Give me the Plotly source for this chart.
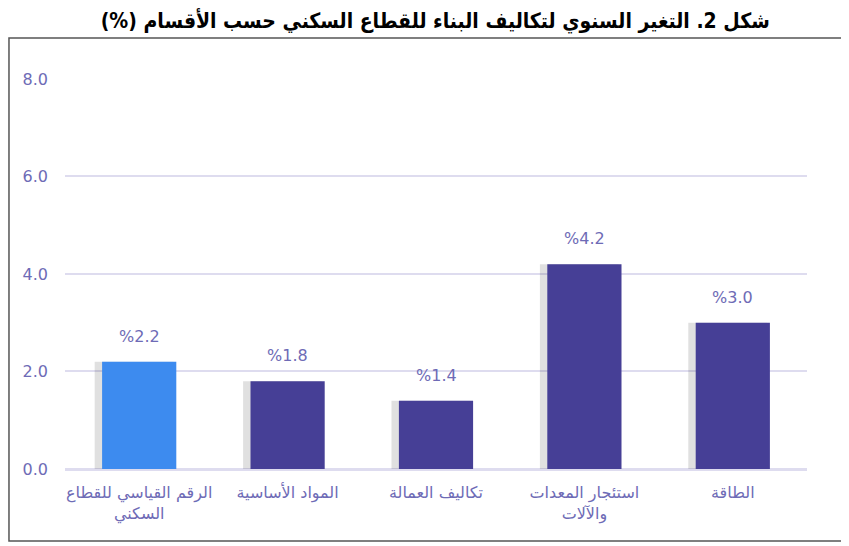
import plotly.graph_objects as go

# data
categories = [
    "الرقم القياسي للقطاع<br>السكني",
    "المواد الأساسية",
    "تكاليف العمالة",
    "استئجار المعدات<br>والآلات",
    "الطاقة",
]
values = [2.2, 1.8, 1.4, 4.2, 3.0]
bar_colors = ["#3d8bef", "#463f96", "#463f96", "#463f96", "#463f96"]
y_ticks = [0, 2, 4, 6, 8]

# RLM marks keep the trailing "(%)" on the left, as in right-to-left text
title = "\u200fشكل 2. التغير السنوي لتكاليف البناء للقطاع السكني حسب الأقسام (%)\u200f"
label_color = "#6e6bb6"
font_family = "DejaVu Sans, Noto Sans, sans-serif"

fig = go.Figure()

# soft grey shadow behind each bar
fig.add_trace(go.Bar(
    x=categories,
    y=values,
    width=0.53,
    offset=-0.3,
    marker=dict(color="rgba(0,0,0,0.12)", line=dict(width=0)),
    hoverinfo="skip",
))

fig.add_trace(go.Bar(
    x=categories,
    y=values,
    width=0.5,
    offset=-0.25,
    marker=dict(color=bar_colors, line=dict(width=0)),
))

for cat, val in zip(categories, values):
    fig.add_annotation(
        x=cat, y=val, text=f"%{val:.1f}",
        showarrow=False, yanchor="bottom", yshift=14,
        font=dict(size=16, color=label_color, family=font_family),
    )

# page body has an 8px margin, so the figure is sized and offset for it
fig.update_layout(
    width=841,
    height=538,
    barmode="overlay",
    showlegend=False,
    paper_bgcolor="white",
    plot_bgcolor="white",
    margin=dict(l=57, r=42, t=70, b=77),
    font=dict(family=font_family, color=label_color),
    title=dict(
        text=title,
        x=0.508, xanchor="center",
        y=0.976, yanchor="middle",
        font=dict(size=21, color="black", family="DejaVu Sans Condensed, DejaVu Sans, sans-serif",
                  weight="bold"),
    ),
    xaxis=dict(
        showgrid=False,
        showline=False,
        zeroline=False,
        tickfont=dict(size=16, color=label_color),
        ticks="outside", ticklen=9, tickcolor="rgba(0,0,0,0)",
    ),
    yaxis=dict(
        range=[0, 8.02],
        tickvals=y_ticks,
        tickformat=".1f",
        showgrid=True,
        gridcolor="#dedcef",
        gridwidth=2,
        zeroline=True,
        zerolinecolor="#dedcef",
        zerolinewidth=3,
        showline=False,
        tickfont=dict(size=16, color=label_color),
        ticklabelstandoff=16,
    ),
    shapes=[dict(
        type="rect", xref="paper", yref="paper",
        x0=-0.0755, x1=1.0526, y0=-0.184, y1=1.1023,
        line=dict(color="#555555", width=1.5),
        layer="below",
    )],
)

fig.write_html("out.html")
